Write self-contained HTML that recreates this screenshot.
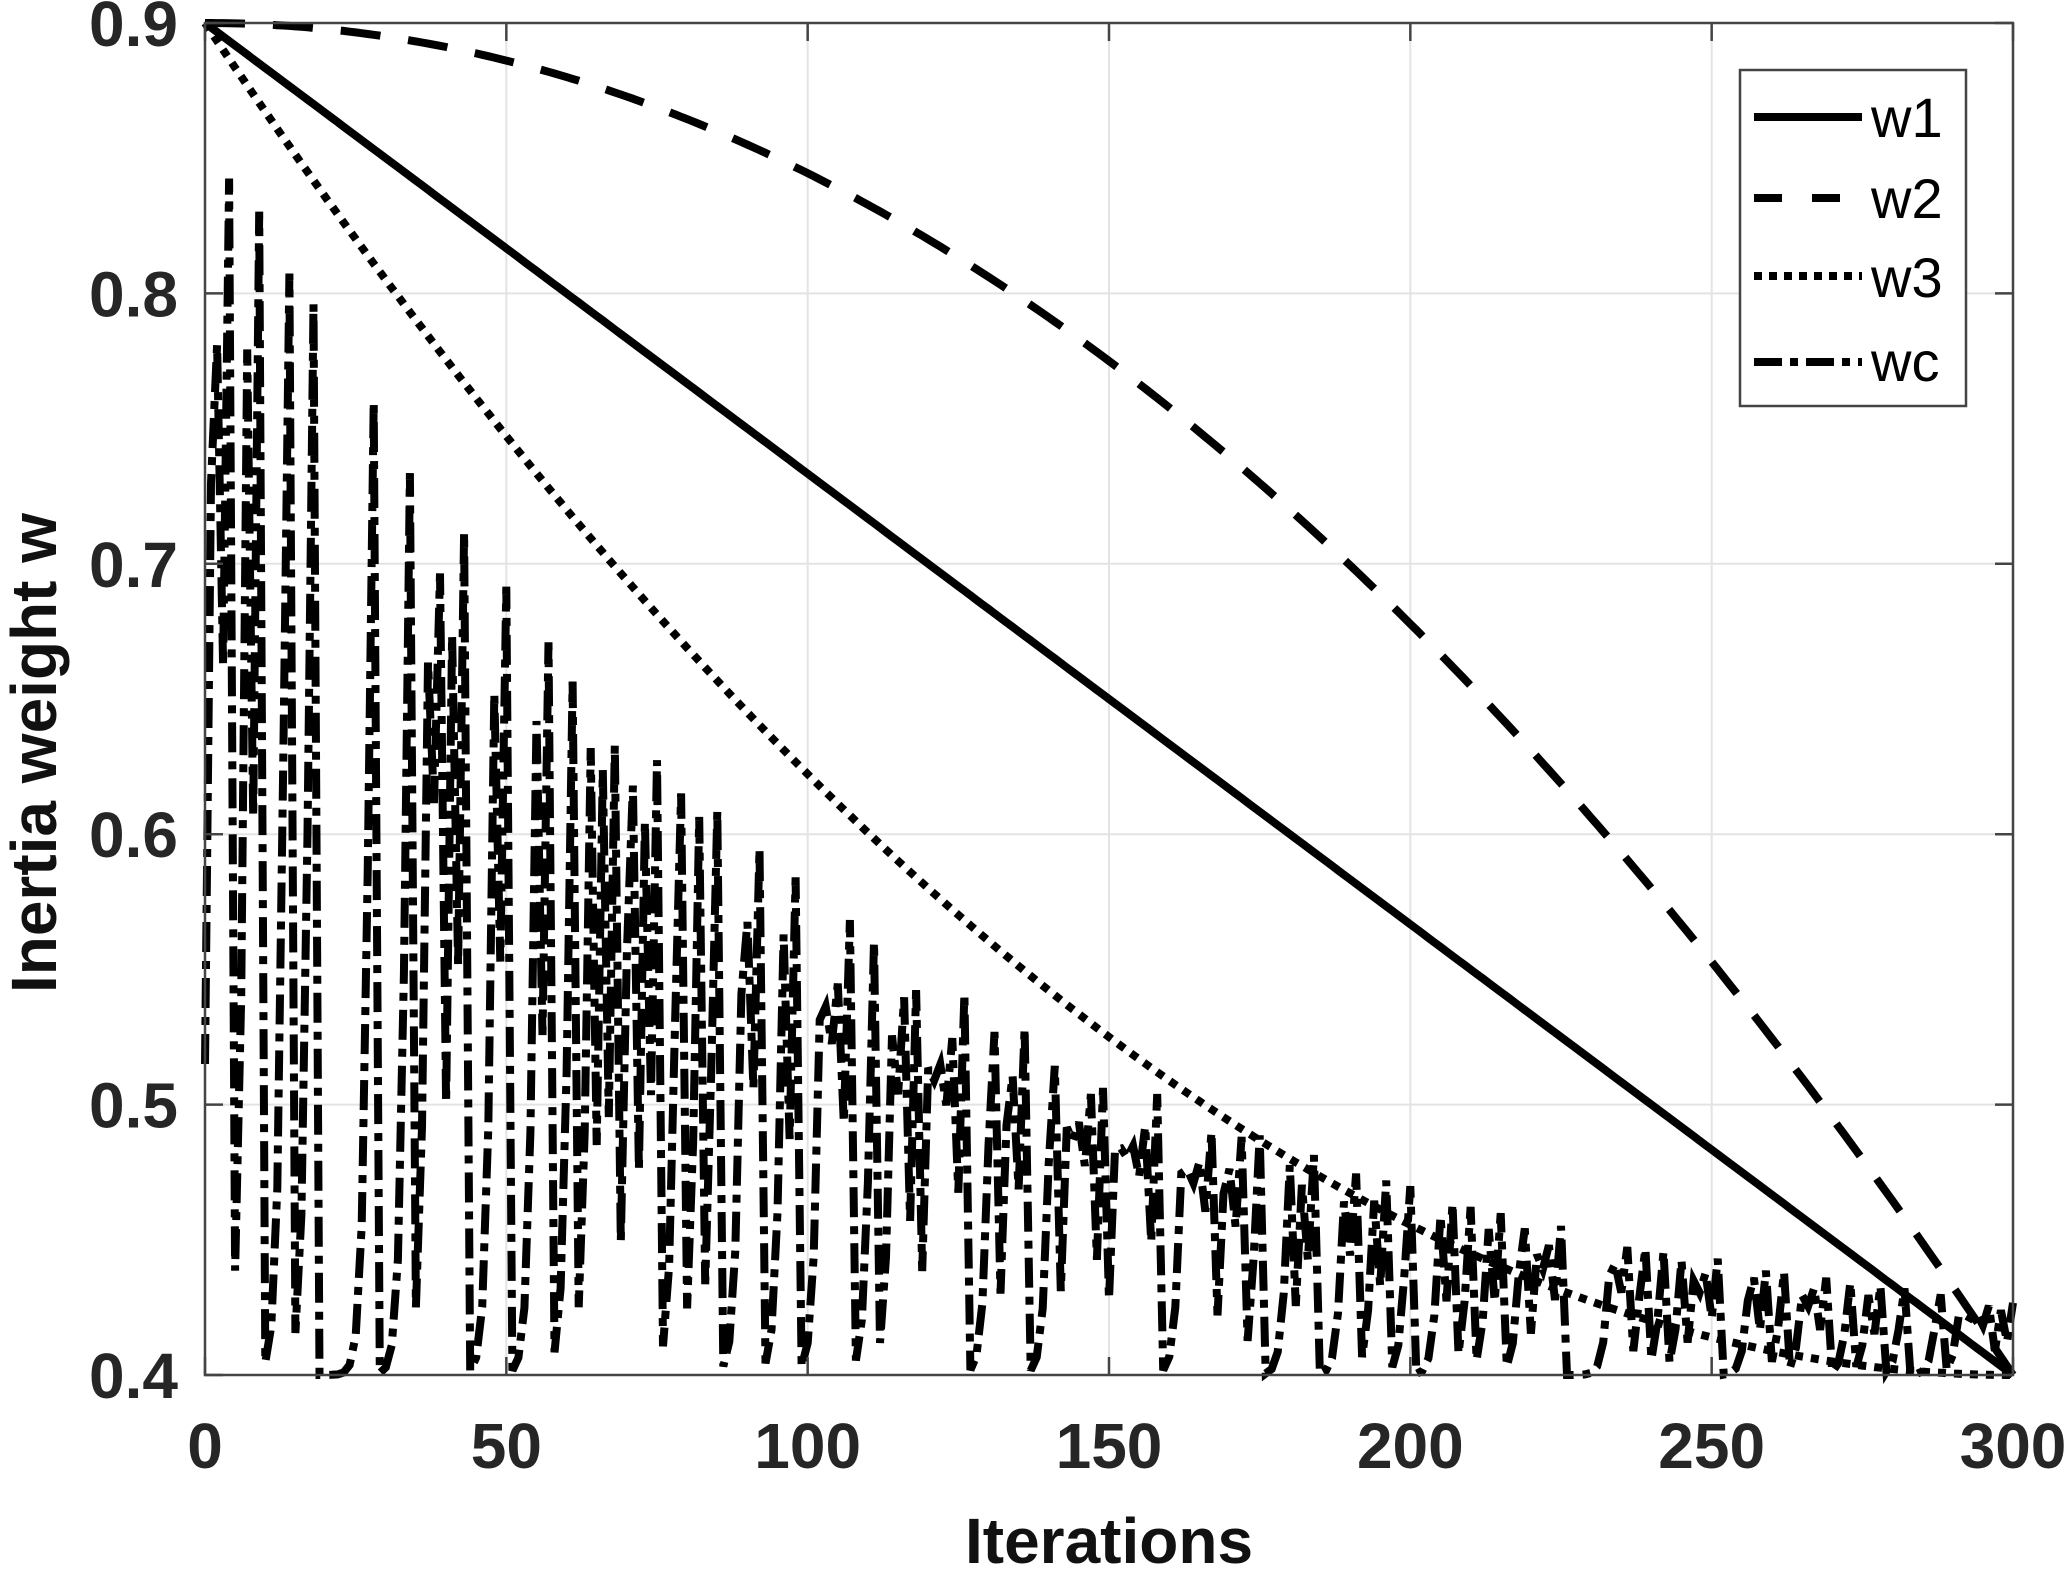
<!DOCTYPE html>
<html><head><meta charset="utf-8"><style>
html,body{margin:0;padding:0;background:#fff;}
svg{display:block;}
text{font-family:"Liberation Sans",Arial,sans-serif;fill:#262626;}
</style></head><body>
<svg id="s" width="2067" height="1572" viewBox="0 0 2067 1572" xmlns="http://www.w3.org/2000/svg">
<rect width="2067" height="1572" fill="#fff"/>
<g id="grid" stroke="#e3e3e3" stroke-width="2"></g>
<g id="series" fill="none" stroke="#000"></g>
<rect x="205" y="23" width="1808" height="1352" fill="none" stroke="#444" stroke-width="2.5"/>
<g id="ticks" stroke="#444" stroke-width="2.5"></g>
<g id="labels" font-size="64" font-weight="bold"></g>
<text x="1109" y="1563" font-size="64" font-weight="bold" text-anchor="middle" style="fill:#111">Iterations</text>
<text transform="translate(56,753) rotate(-90)" font-size="64" font-weight="bold" text-anchor="middle" style="fill:#111">Inertia weight w</text>
<rect x="1740" y="70" width="226" height="336" fill="#fff" stroke="#444" stroke-width="2.5"/>
<g stroke="#000" stroke-width="8">
<line x1="1754" y1="117" x2="1862" y2="117"/>
<line x1="1754" y1="198" x2="1862" y2="198" stroke-dasharray="28,30"/>
<line x1="1754" y1="276" x2="1862" y2="276" stroke-dasharray="8,7"/>
<line x1="1754" y1="362" x2="1862" y2="362" stroke-dasharray="28,8,8,8"/>
</g>
<g font-size="56">
<text x="1871" y="137" style="fill:#000">w1</text>
<text x="1871" y="218" style="fill:#000">w2</text>
<text x="1871" y="297" style="fill:#000">w3</text>
<text x="1871" y="381" style="fill:#000">wc</text>
</g>
</svg>
<script>
var NS="http://www.w3.org/2000/svg";
function X(t){return 205+t*1808/300;}
function Y(v){return 23+(0.9-v)*1352/0.5;}
function el(p,n,a){var e=document.createElementNS(NS,n);for(var k in a)e.setAttribute(k,a[k]);document.getElementById(p).appendChild(e);return e;}
for(var t=50;t<300;t+=50){el("grid","line",{x1:X(t),x2:X(t),y1:23,y2:1375});}
for(var v=0.5;v<0.85;v+=0.1){el("grid","line",{x1:205,x2:2013,y1:Y(v),y2:Y(v)});}
for(var t=0;t<=300;t+=50){
 el("ticks","line",{x1:X(t),x2:X(t),y1:1375,y2:1357});el("ticks","line",{x1:X(t),x2:X(t),y1:23,y2:41});
 var tx=el("labels","text",{x:X(t),y:1468,"text-anchor":"middle"});tx.textContent=t;
}
for(var i=0;i<=5;i++){var v=0.4+i*0.1;
 el("ticks","line",{x1:205,x2:223,y1:Y(v),y2:Y(v)});el("ticks","line",{x1:2013,x2:1995,y1:Y(v),y2:Y(v)});
 var tx=el("labels","text",{x:178,y:Y(v)+23,"text-anchor":"end"});tx.textContent=v.toFixed(1);
}
function path(f){var d="";for(var t=0;t<=300;t+=1){d+=(t?"L":"M")+X(t).toFixed(1)+","+Y(f(t)).toFixed(1);}return d;}
el("series","path",{d:path(function(t){return 0.9-0.5*t/300;}),"stroke-width":8});
el("series","path",{d:path(function(t){return 0.9-0.5*Math.pow(t/300,2);}),"stroke-width":8,"stroke-dasharray":"40,28"});
el("series","path",{d:path(function(t){return 0.4+0.5*Math.pow(1-t/300,2);}),"stroke-width":8,"stroke-dasharray":"8,8"});
var z=0.23,d="";
for(var t=0;t<=300;t++){
 var v;
 if(t==0)v=0.515;else{z=4*z*(1-z);if(z<1e-6)z=0.37;v=0.4+0.47*Math.exp(-t/105)*z;}
 d+=(t?"L":"M")+X(t).toFixed(1)+","+Y(v).toFixed(1);
}
el("series","path",{d:d,"stroke-width":8,"stroke-dasharray":"30,9,8,9","stroke-linejoin":"miter"});
</script>
</body></html>
